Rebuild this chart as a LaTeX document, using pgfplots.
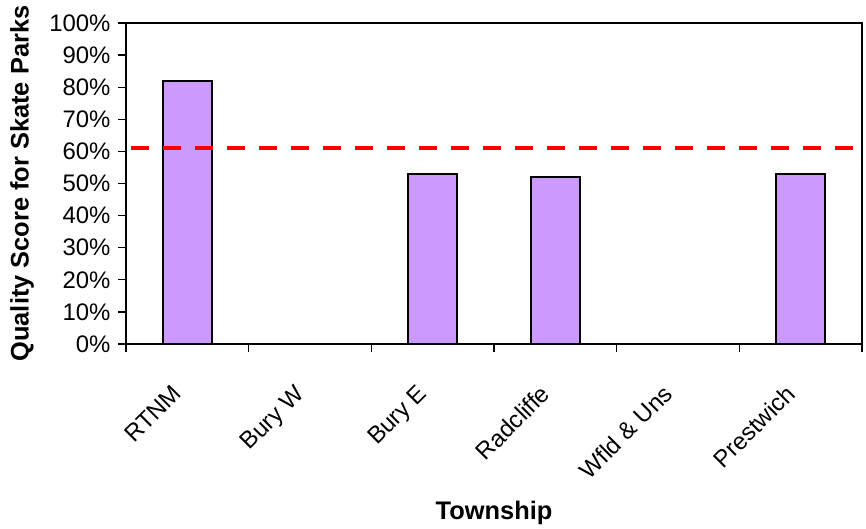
\documentclass[border=0pt]{standalone}
\usepackage{pgfplots}
\pgfplotsset{compat=1.18}
\usepackage{fontspec}
\setmainfont{Liberation Sans}
\definecolor{barfill}{HTML}{CC99FF}
\begin{document}
\begin{tikzpicture}
\useasboundingbox (-126bp,-185bp) rectangle (740bp,344bp);
\begin{axis}[name=ax, at={(0,0)}, anchor=south west,
  scale only axis, width=736bp, height=321bp,
  xmin=-0.5, xmax=5.5, ymin=0, ymax=100,
  axis line style={line width=1.5bp},
  xtick={0,1,2,3,4,5},
  xticklabels={RTNM,Bury W,Bury E,Radcliffe,Wfld \& Uns,Prestwich},
  minor xtick={-0.5,0.5,1.5,2.5,3.5,4.5,5.5},
  ytick={0,10,...,100},
  minor ytick={0,10,...,100},
  xtick pos=bottom, ytick pos=left,
  major tick length=0pt,
  minor tick length=8bp,
  tick align=outside,
  tick style={line width=1.2bp, black},
  yticklabel={\pgfmathprintnumber{\tick}\%},
  /pgf/number format/assume math mode=true,
  yticklabel style={font=\fontsize{24}{24}\selectfont, xshift=-12bp},
  xticklabel style={font=\fontsize{24}{24}\selectfont, rotate=45, anchor=north east, xshift=-36bp, yshift=-13bp},
  xlabel={\textbf{Township}},
  ylabel={\textbf{Quality Score for Skate Parks}},
  label style={font=\fontsize{25.5}{25.5}\selectfont},
  xlabel style={at={(0.5,0)}, anchor=center, yshift=-169bp},
  ylabel style={at={(0,0.5)}, anchor=center, rotate=0, yshift=104bp},
  clip=false,
]
\addplot[ybar, bar width=49bp, fill=barfill, draw=black, line width=1.5bp]
  coordinates {(0,82) (2,53) (3,52) (5,53)};
\addplot[red, line width=4bp, dash pattern=on 18bp off 14bp]
  coordinates {(-0.46,61) (5.5,61)};
\end{axis}
\end{tikzpicture}
\end{document}
